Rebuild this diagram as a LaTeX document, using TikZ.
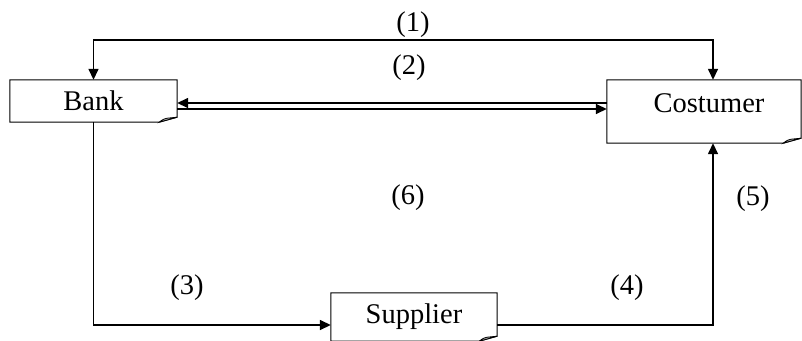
\documentclass[tikz,border=0pt]{standalone}
\usepackage{fontspec}
\setmainfont{Liberation Serif}
\usetikzlibrary{arrows.meta}
\usetikzlibrary{calc}

\tikzset{
  tip/.tip={Triangle[length=11pt,width=10pt]},
  box/.style={draw=none, inner sep=0pt, font=\fontsize{28.5}{32}\selectfont},
  flow/.style={line width=1.5pt, -tip},
  num/.style={font=\fontsize{28.5}{32}\selectfont},
}
% outline of a note with its lower right corner folded
\newcommand{\foldbox}[2][black!30]{%
  \draw[line width=1pt] (#2.north west) -- (#2.north east) -- ($(#2.south east)+(0,-5)$)
    -- ($(#2.south east)+(-18,0)$) -- (#2.south west) -- cycle;
  \draw[line width=0.8pt, fill=#1] ($(#2.south east)+(-18,0)$)
    .. controls ($(#2.south east)+(-14,-3)$) .. ($(#2.south east)+(-10,-4)$)
    -- ($(#2.south east)+(0,-5)$) -- cycle;
}

\begin{document}
\begin{tikzpicture}[x=1pt,y=-1pt]
            \useasboundingbox (0,0) rectangle (802,340);
            \node[box, minimum width=167pt, minimum height=42pt] (bank) at (93.5,101) {Bank};
            \node[box, minimum width=194pt, minimum height=63pt, text depth=16.5pt] (costumer) at (704,111.5) {\hspace*{10pt}Costumer};
            \node[box, minimum width=166pt, minimum height=48pt] (supplier) at (414,317) {Supplier};
            \foldbox{bank}
            \foldbox{costumer}
            \foldbox{supplier}
            \coordinate (c1) at (713,40);
            \draw[flow, tip-tip] (bank.north) |- (c1) -- (c1 |- costumer.north);
            \draw[flow, tip-] ($(bank.east)+(0,2)$) -- ($(costumer.west |- bank.east)+(0,2)$);
            \draw[flow] ($(bank.east)+(0,8)$) -- ($(costumer.west |- bank.east)+(0,8)$);
            \draw[flow] (bank.south) |- ($(supplier.west)+(0,8)$);
            \draw[flow] ($(supplier.east)+(0,8)$) -| (c1 |- costumer.south);
            \node[num] (l1) at (413,25) {(1)};
            \node[num] (l2) at (409,68) {(2)};
            \node[num] (l3) at (187,288) {(3)};
            \node[num] (l4) at (627,288) {(4)};
            \node[num] (l5) at (753,199) {(5)};
            \node[num] (l6) at (408,198) {(6)};
        \end{tikzpicture}
\end{document}
